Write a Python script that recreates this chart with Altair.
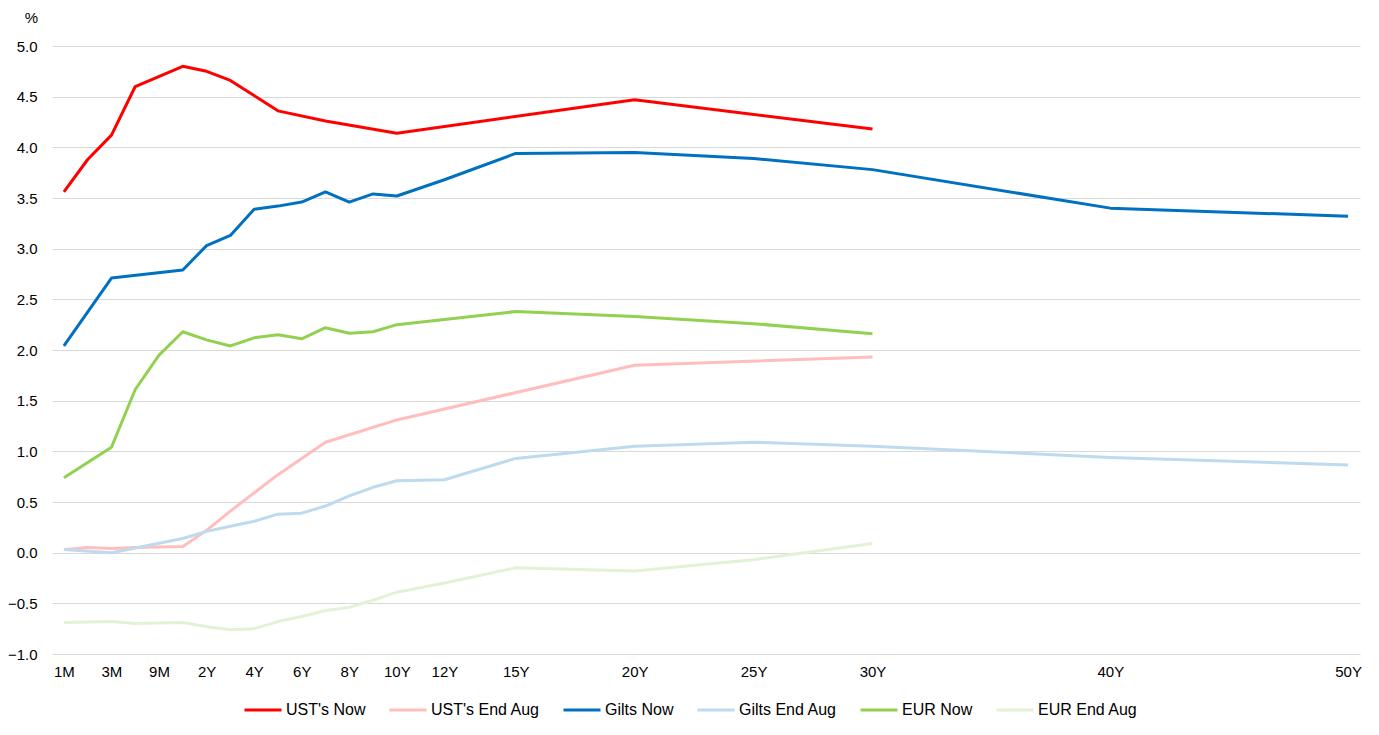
import altair as alt
import pandas as pd

# ---- data ----
tenors = ["1M", "2M", "3M", "6M", "9M", "1Y", "2Y", "3Y", "4Y", "5Y", "6Y", "7Y",
          "8Y", "9Y", "10Y", "12Y", "15Y", "20Y", "25Y", "30Y", "40Y", "50Y"]

ust_now = [3.56, 3.88, 4.12, 4.60, None, 4.80, 4.75, 4.66, None, 4.36, None, 4.26,
           None, None, 4.14, None, None, 4.47, None, 4.18, None, None]
ust_end_aug = [0.03, 0.05, 0.04, 0.05, None, 0.06, 0.22, 0.41, None, 0.77, None, 1.09,
               None, None, 1.31, None, None, 1.85, None, 1.93, None, None]
gilts_now = [2.04, None, 2.71, None, None, 2.79, 3.03, 3.13, 3.39, 3.42, 3.46, 3.56,
             3.46, 3.54, 3.52, 3.68, 3.94, 3.95, 3.89, 3.78, 3.40, 3.32]
gilts_end_aug = [0.03, None, 0.00, None, None, 0.14, 0.21, 0.26, 0.31, 0.38, 0.39, 0.46,
                 0.56, 0.645, 0.71, 0.72, 0.93, 1.05, 1.09, 1.05, 0.94, 0.865]
eur_now = [0.74, None, 1.04, 1.61, 1.95, 2.18, 2.10, 2.04, 2.12, 2.15, 2.11, 2.22,
           2.165, 2.18, 2.25, 2.30, 2.38, 2.33, 2.26, 2.16, None, None]
eur_end_aug = [-0.69, None, -0.68, -0.70, None, -0.69, -0.73, -0.76, -0.75, -0.68, -0.63, -0.57,
               -0.54, -0.47, -0.39, -0.30, -0.15, -0.18, -0.07, 0.09, None, None]

series_names = ["UST's Now", "UST's End Aug", "Gilts Now", "Gilts End Aug", "EUR Now", "EUR End Aug"]
series_values = [ust_now, ust_end_aug, gilts_now, gilts_end_aug, eur_now, eur_end_aug]
series_colors = ["#FF0000", "#FFBDBD", "#0070C0", "#BDDAEF", "#92D050", "#E3F2D5"]

tick_labels = ["1M", "3M", "9M", "2Y", "4Y", "6Y", "8Y", "10Y", "12Y", "15Y",
               "20Y", "25Y", "30Y", "40Y", "50Y"]

# axis slot of a tenor: one slot per listed tenor up to 10Y, then one slot per year
short_slots = tenors[:15]


def slot(t):
    if t in short_slots:
        return short_slots.index(t)
    return 14 + (int(t[:-1]) - 10)


rows = []
for name, vals in zip(series_names, series_values):
    for t, v in zip(tenors, vals):
        if v is not None:
            rows.append({"series": name, "tenor": t, "x": slot(t), "y": v})
df = pd.DataFrame(rows)

tick_vals = [slot(t) for t in tick_labels]
label_expr = ""
for v, l in zip(tick_vals, tick_labels):
    label_expr += f"datum.value == {v} ? '{l}' : "
label_expr += "''"

FONT = "Liberation Sans"

chart = alt.Chart(df).mark_line(strokeWidth=3, strokeJoin="round").encode(
    x=alt.X("x:Q",
            scale=alt.Scale(domain=[-0.5, 54.5], nice=False, zero=False),
            axis=alt.Axis(values=tick_vals, labelExpr=label_expr, grid=False, ticks=False,
                          domain=False, labelFontSize=15, labelPadding=10, labelColor="#000000",
                          labelFont=FONT, title=None, labelFlush=False, labelOverlap=False)),
    y=alt.Y("y:Q",
            scale=alt.Scale(domain=[-1, 5], nice=False, zero=False),
            axis=alt.Axis(values=[-1 + 0.5 * i for i in range(13)], format=".1f", grid=True,
                          gridColor="#D9D9D9", gridWidth=1, ticks=False, domain=False,
                          labelPadding=15, labelFontSize=15, labelColor="#000000", labelFont=FONT,
                          title="%", titleAngle=0, titleX=-21, titleY=-29, titleAlign="center",
                          titleBaseline="middle", titleFontSize=15, titleFontWeight="normal",
                          titleFont=FONT, titleColor="#000000")),
    color=alt.Color("series:N",
                    scale=alt.Scale(domain=series_names, range=series_colors),
                    legend=alt.Legend(orient="none", legendX=191, legendY=644,
                                      direction="horizontal", title=None,
                                      symbolType="stroke", symbolSize=1369, symbolStrokeWidth=3,
                                      labelFontSize=16, labelFont=FONT, labelColor="#000000",
                                      labelOffset=3, columnPadding=17, columns=6)),
    order=alt.Order("x:Q"),
).properties(
    width=1308, height=608,
    autosize=alt.AutoSizeParams(type="none"),
    padding={"left": 44, "top": 38, "right": 11, "bottom": 80},
    background="white",
).configure_view(stroke=None)

chart.save("out.html", embed_options={"renderer": "svg", "actions": False})
